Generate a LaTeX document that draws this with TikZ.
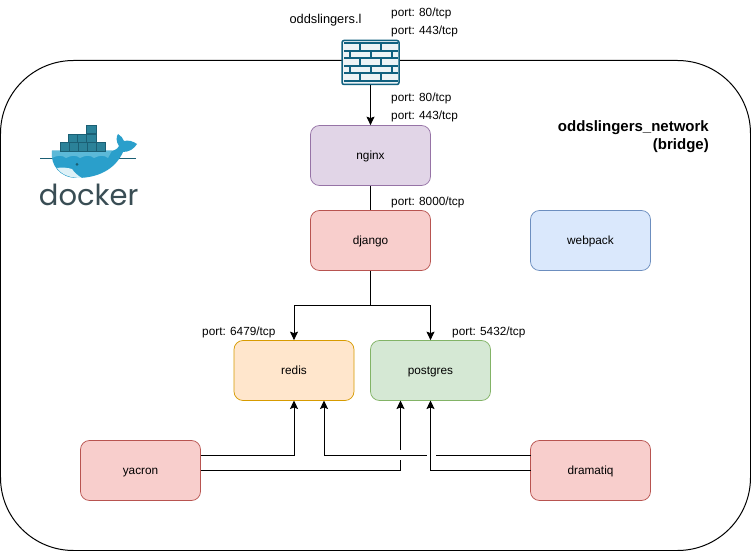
\documentclass[tikz,border=0pt]{standalone}
\usepackage{fontspec}
\setmainfont{Liberation Sans}
\newfontfamily\dockerfont{Poppins}
\usetikzlibrary{arrows.meta,calc}
\definecolor{wateblue}{HTML}{2A9FCB}
\definecolor{whaletop}{HTML}{5CB9D8}
\definecolor{crate}{HTML}{2B8299}
\definecolor{cratedark}{HTML}{1B5F74}
\definecolor{dockertext}{HTML}{394D54}
\definecolor{wallblue}{HTML}{10607F}
\definecolor{wallfill}{HTML}{EDF3F6}
\definecolor{pfill}{HTML}{E1D5E7}\definecolor{pline}{HTML}{9673A6}
\definecolor{rfill}{HTML}{F8CECC}\definecolor{rline}{HTML}{B85450}
\definecolor{bfill}{HTML}{DAE8FC}\definecolor{bline}{HTML}{6C8EBF}
\definecolor{ofill}{HTML}{FFE6CC}\definecolor{oline}{HTML}{D79B00}
\definecolor{gfill}{HTML}{D5E8D4}\definecolor{gline}{HTML}{82B366}
\tikzset{
  svc/.style={draw, rounded corners=9bp, minimum width=120bp, minimum height=60bp, inner sep=0pt, line width=0.75bp, font=\fontsize{11.8bp}{14bp}\selectfont, text=black, text height=8bp, text depth=0bp},
  purplebox/.style={svc, fill=pfill, draw=pline},
  redbox/.style={svc, fill=rfill, draw=rline},
  bluebox/.style={svc, fill=bfill, draw=bline},
  orangebox/.style={svc, fill=ofill, draw=oline},
  greenbox/.style={svc, fill=gfill, draw=gline},
  lbl/.style={inner sep=0pt, anchor=west, font=\fontsize{11.8bp}{14bp}\selectfont, text=black},
  conn/.style={draw=black, line width=1bp, -{Stealth[length=8.5bp,width=8bp,inset=1.5bp]}},
  plain/.style={draw=black, line width=1bp},
  brick/.style={draw=wallblue, line width=2bp},
}
\begin{document}
\begin{tikzpicture}[x=1bp,y=-1bp]
\useasboundingbox (0,0) rectangle (751,551);
\fill[white] (0,0) rectangle (751,551);
% network boundary
\draw[black, line width=1bp, rounded corners=73bp] (0.5,60.5) rectangle (750.5,550.5);

% firewall
\node[draw=wallblue, fill=wallfill, line width=1.5bp, rounded corners=2bp, minimum width=57bp, minimum height=44bp, inner sep=0pt] (wall) at (370.5,62.5) {};
\foreach \y in {43.3,50.7,58.3,65.7,73.3,80.7} \draw[brick] (344,\y) -- (397.7,\y);
\foreach \y in {43.3,58.3,73.3} {
  \draw[brick] (360,\y) -- (360,\y+7.4);
  \draw[brick] (381,\y) -- (381,\y+7.4);
}
\foreach \y in {50.7,65.7} {
  \draw[brick] (350,\y) -- (350,\y+7.6);
  \draw[brick] (370.7,\y) -- (370.7,\y+7.6);
  \draw[brick] (391.7,\y) -- (391.7,\y+7.6);
}

% services
\node[purplebox] (nginx) at (370.5,155.5) {nginx};
\node[redbox] (django) at (370.5,240.5) {django};
\node[bluebox] (webpack) at (590.5,240.5) {webpack};
\node[orangebox] (redis) at (294,370.5) {redis};
\node[greenbox] (postgres) at (430.5,370.5) {postgres};
\node[redbox] (yacron) at (140.5,470.5) {yacron};
\node[redbox] (dramatiq) at (590.5,470.5) {dramatiq};

% labels
\node[lbl, anchor=center, font=\fontsize{12.8bp}{14bp}\selectfont] (host) at (325.5,20.5) {oddslingers.l};
\node[lbl] (p1) at (391,13.5) {port: 80/tcp};
\node[lbl] (p2) at (391,31.5) {port: 443/tcp};
\node[lbl] (p3) at (391,98.5) {port: 80/tcp};
\node[lbl] (p4) at (391,116.5) {port: 443/tcp};
\node[lbl] (p5) at (391,202.5) {port: 8000/tcp};
\node[lbl] (p6) at (202,332.5) {port: 6479/tcp};
\node[lbl] (p7) at (452,332.5) {port: 5432/tcp};
\node[inner sep=0pt, anchor=north east, align=right, font=\fontsize{15bp}{18bp}\selectfont\bfseries, text=black] (net) at (709,120.5) {oddslingers\_network\\(bridge)};

% junctions
\coordinate (split) at (370.5,305.5);
\coordinate (ya) at (200.5,455.5);
\coordinate (yb) at (200.5,470.5);
\coordinate (da) at (530.5,455.5);
\coordinate (db) at (530.5,470.5);
\coordinate (redisA) at (294,400.5);
\coordinate (redisB) at (324,400.5);
\coordinate (pgA) at (400.5,400.5);
\coordinate (pgB) at (430.5,400.5);
\coordinate (gapV1) at (400.5,460);
\coordinate (gapV2) at (400.5,450);
\coordinate (gapH1) at (435.5,455.5);
\coordinate (gapH2) at (426.5,455.5);

% connectors
\draw[conn] (wall.south) -- (nginx.north);
\draw[plain] (nginx.south) -- (django.north);
\draw[plain] (django.south) -- (split);
\draw[conn] (split) -| (redis.north);
\draw[conn] (split) -| (postgres.north);
\draw[conn] (ya) -| (redisA);
\draw[conn] (yb) -| (gapV1) (gapV2) -- (pgA);
\draw[conn] (da) -- (gapH1) (gapH2) -| (redisB);
\draw[conn] (db) -| (pgB);

% docker logo
\fill[cratedark] (40,157.8) -- (136,157.8) -- (136,158.6) -- (40,158.6) -- cycle;
\fill[wateblue] (52,150.7) -- (110,150.7) .. controls (113,151) and (117,150) .. (119,146)
  .. controls (116,142) and (116,137) .. (118,134)
  .. controls (121,136) and (123,138) .. (124,141)
  .. controls (128,140) and (133,141) .. (137,144)
  .. controls (134,149) and (129,152) .. (123,152)
  .. controls (115,170) and (97,178) .. (77,178)
  .. controls (60,178) and (50,165) .. (52,150.7) -- cycle;
\fill[whaletop] (52,150.7) -- (112,150.7) -- (108,158) .. controls (104,155) and (100,155) .. (94,158) .. controls (90,155) and (86,155) .. (80,158) .. controls (76,155) and (72,155) .. (66,158) .. controls (62,155) and (58,155) .. (52,158) -- cycle;
\fill[white!80!whaletop] (57,168) .. controls (62,167) and (69,168) .. (72,169) .. controls (74,172) and (78,176) .. (82,178) .. controls (70,178) and (62,175) .. (57,168) -- cycle;
\fill[cratedark] (77,164.5) circle (1.5bp);
\foreach \x/\y/\w in {60/142.3/9,69/142.3/9,78/142.3/9,87/142.3/9,96/142.3/9,68/134/9.3,77.3/134/9.3,86.6/134/9.3,86/125/10}
  \filldraw[fill=crate, draw=cratedark, line width=0.4bp] (\x,\y) rectangle ++(\w,8.5);
\node[inner sep=0pt, anchor=center, font=\fontsize{29bp}{32bp}\dockerfont, text=dockertext] (dockerword) at (88.7,194.5) {docker};
\end{tikzpicture}
\end{document}
